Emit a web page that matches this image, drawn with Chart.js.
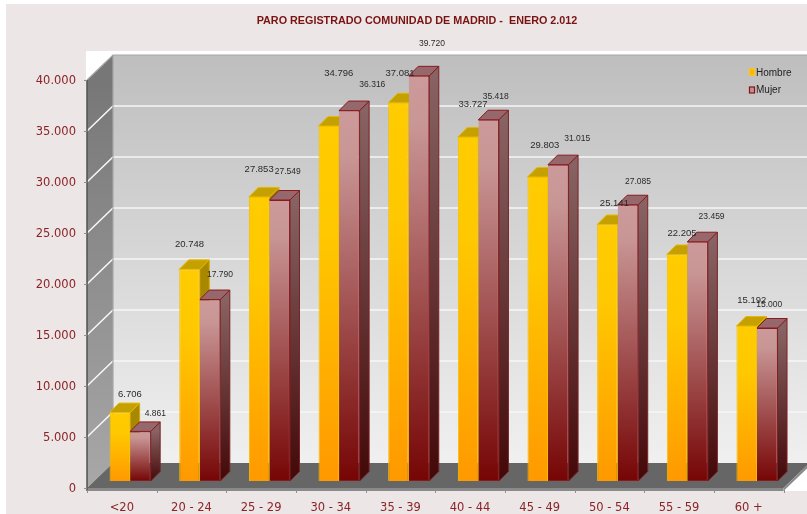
<!DOCTYPE html>
<html><head><meta charset="utf-8">
<style>html,body{margin:0;padding:0;background:#fff}canvas{display:block}</style>
<script src="https://cdn.jsdelivr.net/npm/chart.js@4"></script>
</head><body><canvas id="c" width="807" height="514"></canvas>
<script>
const chartTitle = 'PARO REGISTRADO COMUNIDAD DE MADRID -  ENERO 2.012';
const categories = ['<20','20 - 24','25 - 29','30 - 34','35 - 39','40 - 44','45 - 49','50 - 54','55 - 59','60 +'];
const hombre = [6706,20748,27853,34796,37081,33727,29803,25141,22205,15192];
const mujer  = [4861,17790,27549,36316,39720,35418,31015,27085,23459,15000];
const yMax = 40000, yStep = 5000;
// hand-placed value-label nudges from each bar's top centre, as in the source chart
const hombreNudgeX = [10,0,0,10,1.5,5,7,7,5,5];
const hombreNudgeY = [-18,-25,-28,-53,-29,-33,-32,-21,-21,-26];
const mujerNudgeX  = [15,10,8,23,13,7,19,10,14,2];
const mujerNudgeY  = [-18,-25,-28,-26,-32,-23,-26,-23,-25,-23];

const fmt = v => String(v).replace(/\B(?=(\d{3})+$)/g,'.');
const DEPTH_X = 26, DEPTH_Y = 25, BAR_DX = 8.3, BAR_DY = -7, BAR_DEPTH = 9.5;
const TICK_COLOR = '#8c2327';

function poly(ctx, pts){ ctx.beginPath(); pts.forEach((p,i)=> i?ctx.lineTo(p[0],p[1]):ctx.moveTo(p[0],p[1])); ctx.closePath(); }
function vGrad(ctx, y0, y1, c0, c1){ const g = ctx.createLinearGradient(0,y0,0,y1); g.addColorStop(0,c0); g.addColorStop(1,c1); return g; }
function barGrad(c, stops){
  const {chart, parsed} = c;
  if (!parsed || !chart.scales.y) return stops[0][1];
  const s = chart.scales.y;
  const g = chart.ctx.createLinearGradient(0,s.getPixelForValue(parsed.y),0,s.getPixelForValue(0));
  stops.forEach(([o,col])=>g.addColorStop(o,col));
  return g;
}
function faces(chart, index){
  const {ctx} = chart, isH = index===0, base = chart.scales.y.getPixelForValue(0);
  chart.getDatasetMeta(index).data.forEach(b=>{
    const l=b.x-b.width/2, r=b.x+b.width/2, t=b.y;
    poly(ctx,[[r,t],[r+BAR_DEPTH,t-BAR_DEPTH],[r+BAR_DEPTH,base-BAR_DEPTH],[r,base]]);
    ctx.fillStyle = isH ? '#a88800' : vGrad(ctx,t,base,'#886363','#430808'); ctx.fill();
    ctx.strokeStyle = isH ? '#d6ab00' : '#7e2024'; ctx.lineWidth=1; ctx.stroke();
    poly(ctx,[[l,t],[l+BAR_DEPTH,t-BAR_DEPTH],[r+BAR_DEPTH,t-BAR_DEPTH],[r,t]]);
    ctx.fillStyle = isH ? '#c4a000' : '#96686c'; ctx.fill();
    ctx.strokeStyle = isH ? '#e6b800' : '#8a1a1e'; ctx.stroke();
  });
}

const scene = {
  id:'scene',
  beforeDraw(chart){
    const {ctx, scales:{x,y}} = chart;
    const L=x.left, R=x.right, B=y.getPixelForValue(0), T=y.getPixelForValue(yMax), W=chart.width, H=chart.height;
    ctx.save();
    ctx.fillStyle='#fff'; ctx.fillRect(0,0,W,H);
    ctx.fillStyle='#ece6e6'; ctx.fillRect(6,4,W-6,H-4);
    ctx.fillStyle='#fff'; ctx.fillRect(L-1,51,W-L+1,B+3-51);
    // back wall
    ctx.fillStyle=vGrad(ctx,T-DEPTH_Y,B-DEPTH_Y,'#bebebe','#f0f0f0');
    ctx.fillRect(L+DEPTH_X,T-DEPTH_Y,W-L-DEPTH_X,B-T);
    // left wall
    poly(ctx,[[L,T],[L+DEPTH_X,T-DEPTH_Y],[L+DEPTH_X,B-DEPTH_Y],[L,B]]);
    ctx.fillStyle=vGrad(ctx,T,B,'#777777','#a8a8a8'); ctx.fill();
    // floor + slab
    poly(ctx,[[L,B],[R,B],[R+DEPTH_X,B-DEPTH_Y],[L+DEPTH_X,B-DEPTH_Y]]);
    ctx.fillStyle='#666666'; ctx.fill();
    ctx.fillStyle='#8a8a8a'; ctx.fillRect(L,B,R-L,3);
    poly(ctx,[[R,B],[R+DEPTH_X,B-DEPTH_Y],[R+DEPTH_X,B-DEPTH_Y+3],[R,B+3]]); ctx.fill();
    // grid
    ctx.strokeStyle='#f6f6f6'; ctx.lineWidth=1.6;
    for(let v=yStep;v<yMax;v+=yStep){
      const p=y.getPixelForValue(v);
      ctx.beginPath(); ctx.moveTo(L,p); ctx.lineTo(L+DEPTH_X,p-DEPTH_Y); ctx.lineTo(W,p-DEPTH_Y); ctx.stroke();
    }
    ctx.strokeStyle='#a6a6a6'; ctx.lineWidth=1.2;
    ctx.beginPath(); ctx.moveTo(L,T); ctx.lineTo(L+DEPTH_X,T-DEPTH_Y); ctx.lineTo(W,T-DEPTH_Y); ctx.stroke();
    ctx.beginPath(); ctx.moveTo(L+DEPTH_X,T-DEPTH_Y); ctx.lineTo(L+DEPTH_X,B-DEPTH_Y); ctx.stroke();
    // axes and tick marks
    ctx.strokeStyle='#555'; ctx.lineWidth=1.6;
    ctx.beginPath(); ctx.moveTo(L,T); ctx.lineTo(L,B+3); ctx.stroke();
    ctx.strokeStyle='#8f8f8f'; ctx.lineWidth=1;
    for(let v=0;v<=yMax;v+=yStep){ const p=Math.round(y.getPixelForValue(v))+.5; ctx.beginPath(); ctx.moveTo(L-3,p); ctx.lineTo(L,p); ctx.stroke(); }
    const step=(R-L)/categories.length;
    for(let i=0;i<=categories.length;i++){ const p=Math.round(L+i*step)+.5; ctx.beginPath(); ctx.moveTo(p,B+2); ctx.lineTo(p,B+5); ctx.stroke(); }
    ctx.restore();
  },
  afterLayout(chart){
    const l = chart.legend;
    l.left=743; l.right=806; l.top=61; l.bottom=200;
    chart.titleBlock.left=50; chart.titleBlock.right=784;
  },
  beforeDatasetDraw(chart,args){
    const {ctx} = chart;
    ctx.save();
    ctx.translate(BAR_DX,BAR_DY);
    // Mujer is painted first by the library; the 3D faces of both series go under the fronts
    if(args.index===1){ faces(chart,0); faces(chart,1); }
  },
  afterDatasetDraw(chart){ chart.ctx.restore(); },
  afterDraw(chart){
    const {ctx} = chart;
    ctx.save();
    ctx.fillStyle='#2a2a2a'; ctx.textAlign='center'; ctx.textBaseline='middle';
    [[0,hombre,hombreNudgeX,hombreNudgeY,9.5],[1,mujer,mujerNudgeX,mujerNudgeY,8.5]].forEach(([d,vals,nx,ny,size])=>{
      ctx.font=size+'px "Liberation Sans"';
      chart.getDatasetMeta(d).data.forEach((b,i)=>{
        ctx.fillText(fmt(vals[i]), b.x+BAR_DX+nx[i], b.y+BAR_DY+ny[i]);
      });
    });
    // legend swatches
    const sw=[['#ffb400','#ffc800'],['#c79090','#8a1216']];
    sw.forEach((c,i)=>{
      ctx.fillStyle=c[0]; ctx.strokeStyle=c[1]; ctx.lineWidth=1.2;
      const yy=Math.round(chart.legend.top+8+i*18);
      ctx.fillRect(749.5,yy,5,6); ctx.strokeRect(749.5,yy,5,6);
    });
    ctx.restore();
  }
};

new Chart(document.getElementById('c'),{
  type:'bar',
  data:{labels:categories,datasets:[
    {label:'Hombre',data:hombre,borderWidth:1,borderColor:'#f5c000',
      backgroundColor:c=>barGrad(c,[[0,'#ffcc00'],[.3,'#ffc800'],[1,'#ff9900']]),categoryPercentage:.59,barPercentage:1},
    {label:'Mujer',data:mujer,borderWidth:1,borderColor:'#8a1a1e',borderSkipped:'left',
      backgroundColor:c=>barGrad(c,[[0,'#cc9a9a'],[.12,'#c99696'],[1,'#760505']]),categoryPercentage:.59,barPercentage:1}
  ]},
  options:{
    responsive:false,animation:false,devicePixelRatio:1,
    layout:{padding:{left:0,right:23.5,top:0,bottom:0}},
    plugins:{
      title:{display:true,text:chartTitle,color:'#7a1212',font:{family:'"Liberation Sans"',size:10.8,weight:'bold'},padding:{top:15,bottom:52.04}},
      legend:{display:true,position:'chartArea',align:'start',
        labels:{boxWidth:1,boxHeight:1,padding:7,color:'#222',font:{family:'"Liberation Sans"',size:10},
          generateLabels:()=>['Hombre','Mujer'].map((t,i)=>({text:t,fillStyle:'transparent',strokeStyle:'transparent',lineWidth:0,datasetIndex:i,fontColor:'#222'}))}},
      tooltip:{enabled:false}
    },
    scales:{
      x:{grid:{display:false},border:{display:false},afterFit:s=>{s.height=26;},
        ticks:{color:TICK_COLOR,padding:5,autoSkip:false,maxRotation:0,font:{family:'"DejaVu Sans"',size:11.5}}},
      y:{min:0,max:yMax,grid:{display:false},border:{display:false},afterFit:s=>{s.width=87;},
        ticks:{stepSize:yStep,color:TICK_COLOR,padding:3,labelOffset:1,font:{family:'"DejaVu Sans"',size:11.5},callback:v=>fmt(v)}}
    }
  },
  plugins:[scene]
});
</script></body></html>
